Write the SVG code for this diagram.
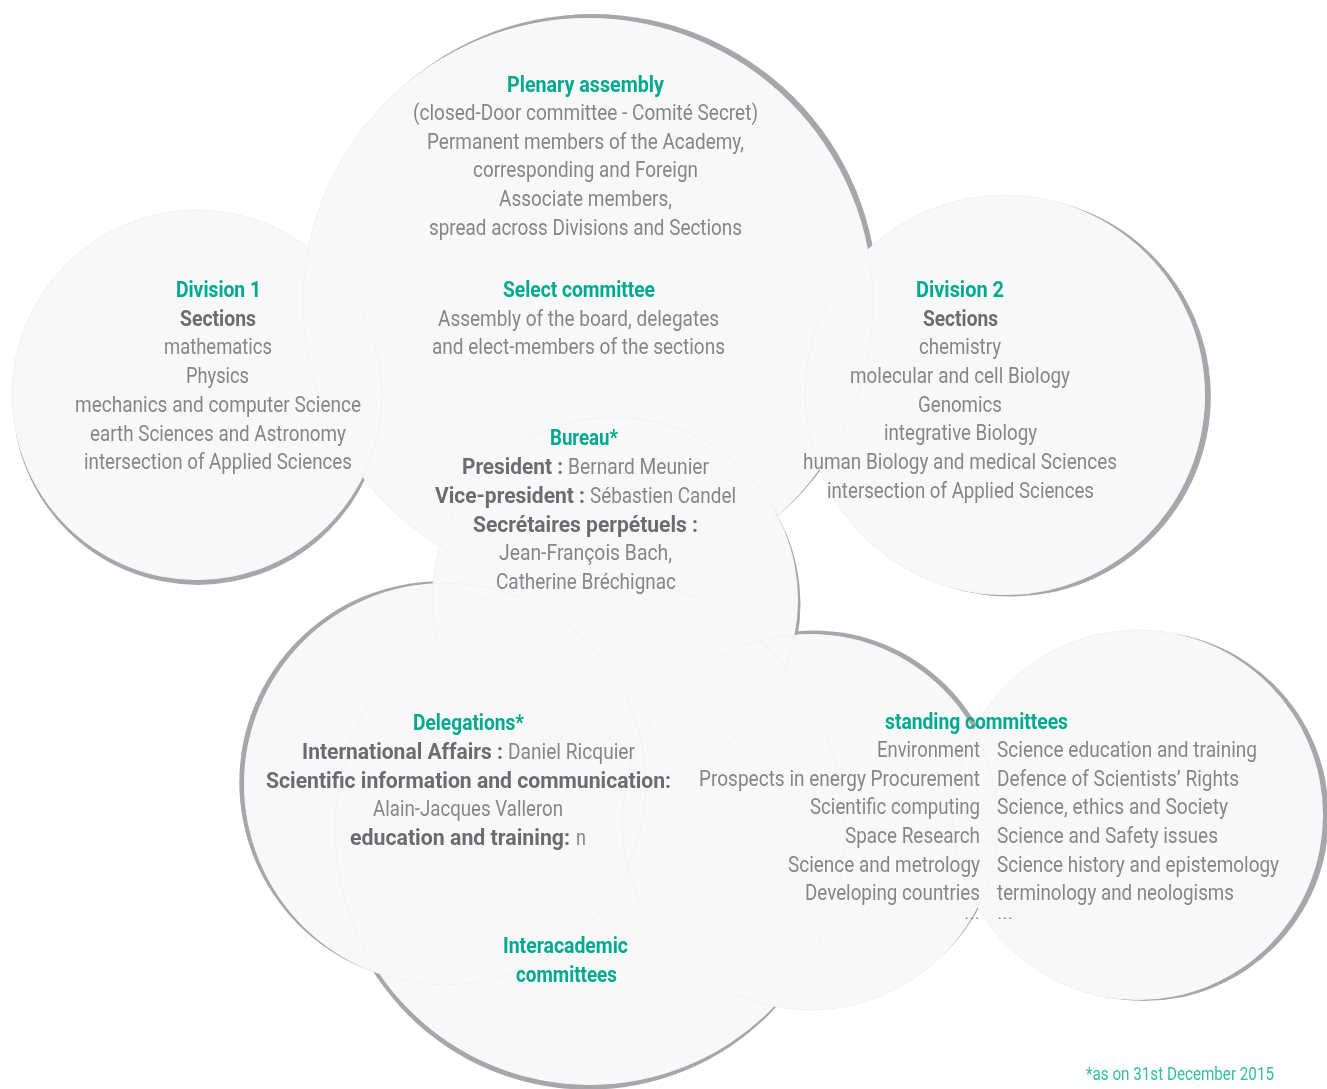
<svg xmlns="http://www.w3.org/2000/svg" width="1327" height="1089" viewBox="0 0 1327 1089">
<style>
.disc{fill:#f8f8f8;stroke:#f1f1f1;stroke-width:1;mix-blend-mode:darken}
.shade{fill:#a5a7aa;filter:url(#soft)}
text{font-family:Roboto,"Liberation Sans",Arial,sans-serif;font-size:22px}
.r{font-weight:400;fill:#858689}
.b{font-weight:700;fill:#6b6c6f}
.h{font-weight:700;fill:#00a98f}
.f{font-weight:400;fill:#33bf9f;font-size:18px}
.dots{font-size:12px}
</style>
<defs>
<filter id="soft" x="-5%" y="-5%" width="110%" height="110%"><feGaussianBlur stdDeviation="0.6"/></filter>
<circle id="c-p" cx="588" cy="303" r="285"/>
<circle id="c-d1" cx="197" cy="395" r="185"/>
<circle id="c-d2" cx="1005" cy="395" r="200"/>
<circle id="c-b" cx="615" cy="600" r="183"/>
<circle id="c-dl" cx="445" cy="784" r="201"/>
<circle id="c-ia" cx="590" cy="830" r="255"/>
<circle id="c-sl" cx="810" cy="822" r="188"/>
<circle id="c-sr" cx="1138" cy="815" r="185"/>
<mask id="m-p" maskUnits="userSpaceOnUse" x="0" y="0" width="1327" height="1089"><rect width="1327" height="1089" fill="#fff"/><use href="#c-p" fill="#000"/><use href="#c-d2" fill="#000"/><use href="#c-b" fill="#000"/></mask>
<mask id="m-d1" maskUnits="userSpaceOnUse" x="0" y="0" width="1327" height="1089"><rect width="1327" height="1089" fill="#fff"/><use href="#c-d1" fill="#000"/><use href="#c-p" fill="#000"/></mask>
<mask id="m-d2" maskUnits="userSpaceOnUse" x="0" y="0" width="1327" height="1089"><rect width="1327" height="1089" fill="#fff"/><use href="#c-d2" fill="#000"/></mask>
<mask id="m-b" maskUnits="userSpaceOnUse" x="0" y="0" width="1327" height="1089"><rect width="1327" height="1089" fill="#fff"/><use href="#c-b" fill="#000"/><use href="#c-sl" fill="#000"/><use href="#c-dl" fill="#000"/><use href="#c-ia" fill="#000"/></mask>
<mask id="m-dl" maskUnits="userSpaceOnUse" x="0" y="0" width="1327" height="1089"><rect width="1327" height="1089" fill="#fff"/><use href="#c-dl" fill="#000"/><use href="#c-b" fill="#000"/></mask>
<mask id="m-ia" maskUnits="userSpaceOnUse" x="0" y="0" width="1327" height="1089"><rect width="1327" height="1089" fill="#fff"/><use href="#c-ia" fill="#000"/><use href="#c-dl" fill="#000"/><use href="#c-sl" fill="#000"/></mask>
<mask id="m-sl" maskUnits="userSpaceOnUse" x="0" y="0" width="1327" height="1089"><rect width="1327" height="1089" fill="#fff"/><use href="#c-sl" fill="#000"/><use href="#c-b" fill="#000"/><use href="#c-sr" fill="#000"/></mask>
<mask id="m-sr" maskUnits="userSpaceOnUse" x="0" y="0" width="1327" height="1089"><rect width="1327" height="1089" fill="#fff"/><use href="#c-sr" fill="#000"/></mask>
</defs>
<rect width="1327" height="1089" fill="#ffffff"/>

<g id="plenary-assembly">
<g mask="url(#m-p)"><circle class="shade" cx="592.6" cy="299.1" r="285"/></g>
<use href="#c-p" class="disc"/>
<text class="h" x="507" y="92" textLength="157" lengthAdjust="spacingAndGlyphs">Plenary assembly</text>
<text class="r" x="413" y="120" textLength="345" lengthAdjust="spacingAndGlyphs">(closed-Door committee - Comité Secret)</text>
<text class="r" x="427" y="148.5" textLength="317" lengthAdjust="spacingAndGlyphs">Permanent members of the Academy,</text>
<text class="r" x="473" y="177" textLength="225" lengthAdjust="spacingAndGlyphs">corresponding and Foreign</text>
<text class="r" x="499" y="206" textLength="173" lengthAdjust="spacingAndGlyphs">Associate members,</text>
<text class="r" x="429" y="234.5" textLength="313" lengthAdjust="spacingAndGlyphs">spread across Divisions and Sections</text>
</g>

<g id="select-committee">
<text class="h" x="503" y="297" textLength="152" lengthAdjust="spacingAndGlyphs">Select committee</text>
<text class="r" x="438" y="326" textLength="281" lengthAdjust="spacingAndGlyphs">Assembly of the board, delegates</text>
<text class="r" x="432" y="354" textLength="293" lengthAdjust="spacingAndGlyphs">and elect-members of the sections</text>
</g>

<g id="division-1">
<g mask="url(#m-d1)"><circle class="shade" cx="197.9" cy="399.9" r="185"/></g>
<use href="#c-d1" class="disc"/>
<text class="h" x="176" y="297" textLength="85" lengthAdjust="spacingAndGlyphs">Division 1</text>
<text class="b" x="180" y="326" textLength="76" lengthAdjust="spacingAndGlyphs">Sections</text>
<text class="r" x="164" y="354" textLength="108" lengthAdjust="spacingAndGlyphs">mathematics</text>
<text class="r" x="186" y="383" textLength="63" lengthAdjust="spacingAndGlyphs">Physics</text>
<text class="r" x="75" y="411.7" textLength="286" lengthAdjust="spacingAndGlyphs">mechanics and computer Science</text>
<text class="r" x="90" y="440.7" textLength="256" lengthAdjust="spacingAndGlyphs">earth Sciences and Astronomy</text>
<text class="r" x="84" y="469.3" textLength="268" lengthAdjust="spacingAndGlyphs">intersection of Applied Sciences</text>
</g>

<g id="division-2">
<g mask="url(#m-d2)"><circle class="shade" cx="1010.8" cy="396.6" r="200"/></g>
<use href="#c-d2" class="disc"/>
<text class="h" x="916" y="297" textLength="88" lengthAdjust="spacingAndGlyphs">Division 2</text>
<text class="b" x="923" y="326" textLength="75" lengthAdjust="spacingAndGlyphs">Sections</text>
<text class="r" x="919" y="354" textLength="82" lengthAdjust="spacingAndGlyphs">chemistry</text>
<text class="r" x="850" y="383" textLength="220" lengthAdjust="spacingAndGlyphs">molecular and cell Biology</text>
<text class="r" x="918" y="411.7" textLength="84" lengthAdjust="spacingAndGlyphs">Genomics</text>
<text class="r" x="884" y="440" textLength="153" lengthAdjust="spacingAndGlyphs">integrative Biology</text>
<text class="r" x="803" y="469" textLength="314" lengthAdjust="spacingAndGlyphs">human Biology and medical Sciences</text>
<text class="r" x="827" y="497.5" textLength="267" lengthAdjust="spacingAndGlyphs">intersection of Applied Sciences</text>
</g>

<g id="bureau">
<g mask="url(#m-b)"><circle class="shade" cx="617.5" cy="604.3" r="183"/></g>
<use href="#c-b" class="disc"/>
<text class="h" x="550" y="445" textLength="68" lengthAdjust="spacingAndGlyphs">Bureau*</text>
<text class="b" x="462" y="474" textLength="101" lengthAdjust="spacingAndGlyphs">President :</text>
<text class="r" x="568" y="474" textLength="141" lengthAdjust="spacingAndGlyphs">Bernard Meunier</text>
<text class="b" x="435" y="503" textLength="150" lengthAdjust="spacingAndGlyphs">Vice-president :</text>
<text class="r" x="590" y="503" textLength="146" lengthAdjust="spacingAndGlyphs">Sébastien Candel</text>
<text class="b" x="473" y="531.5" textLength="225" lengthAdjust="spacingAndGlyphs">Secrétaires perpétuels :</text>
<text class="r" x="499" y="560" textLength="173" lengthAdjust="spacingAndGlyphs">Jean-François Bach,</text>
<text class="r" x="496" y="588.5" textLength="180" lengthAdjust="spacingAndGlyphs">Catherine Bréchignac</text>
</g>

<g id="delegations">
<g mask="url(#m-dl)"><circle class="shade" cx="440.3" cy="782.3" r="201"/></g>
<use href="#c-dl" class="disc"/>
<text class="h" x="413" y="730" textLength="111" lengthAdjust="spacingAndGlyphs">Delegations*</text>
<text class="b" x="302" y="759" textLength="201" lengthAdjust="spacingAndGlyphs">International Affairs :</text>
<text class="r" x="508" y="759" textLength="127" lengthAdjust="spacingAndGlyphs">Daniel Ricquier</text>
<text class="b" x="266" y="787.5" textLength="405" lengthAdjust="spacingAndGlyphs">Scientific information and communication:</text>
<text class="r" x="373" y="816" textLength="190" lengthAdjust="spacingAndGlyphs">Alain-Jacques Valleron</text>
<text class="b" x="350" y="845" textLength="220" lengthAdjust="spacingAndGlyphs">education and training:</text>
<text class="r" x="576" y="845" textLength="10" lengthAdjust="spacingAndGlyphs">n</text>
</g>

<g id="interacademic-committees">
<g mask="url(#m-ia)"><circle class="shade" cx="588.3" cy="834.7" r="255"/></g>
<use href="#c-ia" class="disc"/>
<text class="h" x="503" y="953" textLength="125" lengthAdjust="spacingAndGlyphs">Interacademic</text>
<text class="h" x="516" y="982" textLength="101" lengthAdjust="spacingAndGlyphs">committees</text>
</g>

<g id="standing-committees">
<g mask="url(#m-sl)"><circle class="shade" cx="813.5" cy="818.5" r="188"/></g>
<use href="#c-sl" class="disc"/>
<g mask="url(#m-sr)"><circle class="shade" cx="1143.9" cy="816" r="185"/></g>
<use href="#c-sr" class="disc"/>
<text class="h" x="885" y="729" textLength="183" lengthAdjust="spacingAndGlyphs">standing committees</text>
<text class="r" x="877" y="757" textLength="103" lengthAdjust="spacingAndGlyphs">Environment</text>
<text class="r" x="699" y="785.7" textLength="281" lengthAdjust="spacingAndGlyphs">Prospects in energy Procurement</text>
<text class="r" x="810" y="814.3" textLength="170" lengthAdjust="spacingAndGlyphs">Scientific computing</text>
<text class="r" x="845" y="843" textLength="135" lengthAdjust="spacingAndGlyphs">Space Research</text>
<text class="r" x="788" y="871.7" textLength="192" lengthAdjust="spacingAndGlyphs">Science and metrology</text>
<text class="r" x="805" y="900" textLength="175" lengthAdjust="spacingAndGlyphs">Developing countries</text>
<text class="r dots" x="964" y="919" textLength="16" lengthAdjust="spacingAndGlyphs">...</text>
<text class="r" x="997" y="757" textLength="260" lengthAdjust="spacingAndGlyphs">Science education and training</text>
<text class="r" x="997" y="785.7" textLength="242" lengthAdjust="spacingAndGlyphs">Defence of Scientists’ Rights</text>
<text class="r" x="997" y="814.3" textLength="231" lengthAdjust="spacingAndGlyphs">Science, ethics and Society</text>
<text class="r" x="997" y="843" textLength="221" lengthAdjust="spacingAndGlyphs">Science and Safety issues</text>
<text class="r" x="997" y="871.7" textLength="282" lengthAdjust="spacingAndGlyphs">Science history and epistemology</text>
<text class="r" x="997" y="900" textLength="237" lengthAdjust="spacingAndGlyphs">terminology and neologisms</text>
<text class="r dots" x="997" y="919" textLength="16" lengthAdjust="spacingAndGlyphs">...</text>
</g>

<g id="footnote">
<text class="f" x="1086" y="1080" textLength="188" lengthAdjust="spacingAndGlyphs">*as on 31st December 2015</text>
</g>
</svg>
